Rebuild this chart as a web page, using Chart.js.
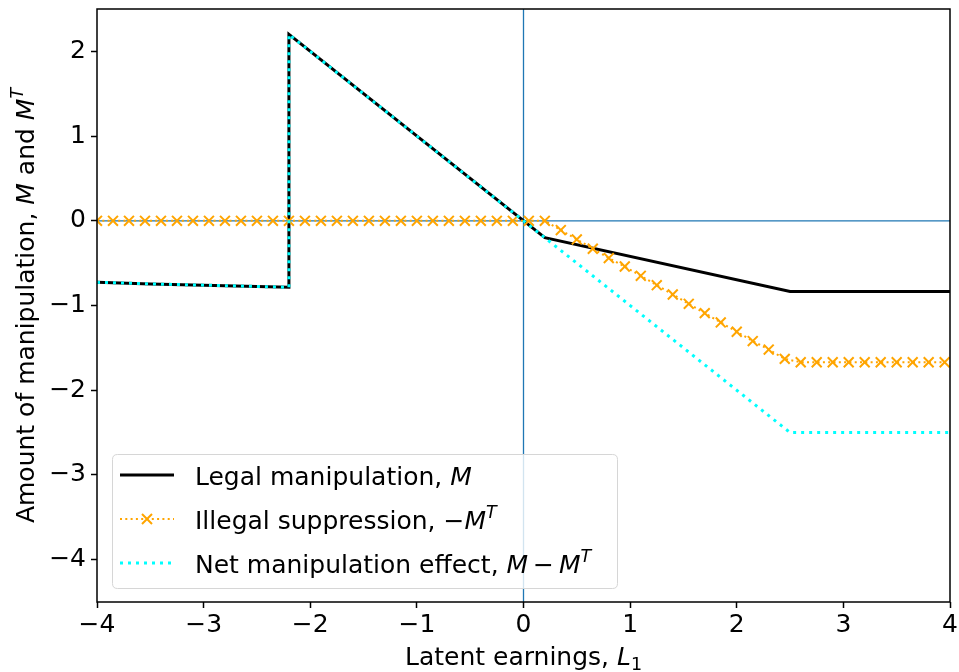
<!DOCTYPE html>
<html>
<head>
<meta charset="utf-8">
<script src="https://cdn.jsdelivr.net/npm/chart.js@4/dist/chart.umd.min.js"></script>
<style>
  html, body { margin: 0; padding: 0; background: #ffffff; }
  #wrap { width: 959px; height: 672px; }
</style>
</head>
<body>
<div id="wrap"><canvas id="c" width="959" height="672"></canvas></div>
<script>
// Latent earnings L1 (x) against amount of manipulation (y)
const xTicks = [-4, -3, -2, -1, 0, 1, 2, 3, 4];
const yTicks = [-4, -3, -2, -1, 0, 1, 2];

// Legal manipulation, M (breakpoints of the piecewise curve)
const legalX = [-4.0, -3.5, -3.0, -2.5, -2.2, -2.2, 0.2, 2.5, 4.0];
const legalY = [-0.726, -0.745, -0.76, -0.775, -0.785, 2.2, -0.2, -0.835, -0.835];

// Illegal suppression, -M^T (marked samples)
const suppressionX = [
  -4.00, -3.85, -3.70, -3.55, -3.40, -3.25, -3.10, -2.95, -2.80, -2.65,
  -2.50, -2.35, -2.20, -2.05, -1.90, -1.75, -1.60, -1.45, -1.30, -1.15,
  -1.00, -0.85, -0.70, -0.55, -0.40, -0.25, -0.10, 0.05, 0.20, 0.35,
  0.50, 0.65, 0.80, 0.95, 1.10, 1.25, 1.40, 1.55, 1.70, 1.85,
  2.00, 2.15, 2.30, 2.45, 2.60, 2.75, 2.90, 3.05, 3.20, 3.35,
  3.50, 3.65, 3.80, 3.95
];
const suppressionY = [
  0, 0, 0, 0, 0, 0, 0, 0, 0, 0,
  0, 0, 0, 0, 0, 0, 0, 0, 0, 0,
  0, 0, 0, 0, 0, 0, 0, 0, 0, -0.11,
  -0.22, -0.33, -0.44, -0.54, -0.65, -0.76, -0.87, -0.98, -1.09, -1.20,
  -1.31, -1.42, -1.52, -1.63, -1.67, -1.67, -1.67, -1.67, -1.67, -1.67,
  -1.67, -1.67, -1.67, -1.67
];

// Net manipulation effect, M - M^T
const netX = [-4.0, -3.5, -3.0, -2.5, -2.2, -2.2, 0.2, 2.5, 4.0];
const netY = [-0.726, -0.745, -0.76, -0.775, -0.785, 2.2, -0.2, -2.5, -2.5];

const FONT = '"DejaVu Sans", "Liberation Sans", sans-serif';
const FS = 25;

const pts = (xs, ys) => xs.map((x, i) => ({ x: x, y: ys[i] }));
const fmt = v => (v < 0 ? '\u2212' + Math.abs(v) : String(v));

// Draw a run of text pieces (upright / italic / superscript / subscript)
function richPieces(ctx, segs) {
  return segs.map(s => {
    const size = (s.sup || s.sub) ? FS * 0.7 : FS;
    const font = (s.it ? 'italic ' : '') + size + 'px ' + FONT;
    ctx.font = font;
    const w = s.gap !== undefined ? s.gap : ctx.measureText(s.t).width;
    return Object.assign({}, s, { font: font, w: w });
  });
}
function drawRich(ctx, segs, x, baseY, align) {
  const pieces = richPieces(ctx, segs);
  const total = pieces.reduce((a, p) => a + p.w, 0);
  let cx = align === 'center' ? x - total / 2 : x;
  ctx.save();
  ctx.fillStyle = '#000';
  ctx.textAlign = 'left';
  ctx.textBaseline = 'alphabetic';
  pieces.forEach(p => {
    if (p.t) {
      ctx.font = p.font;
      let dy = 0;
      if (p.sup) dy = -11;
      if (p.sub) dy = 5;
      ctx.fillText(p.t, cx, baseY + dy);
    }
    cx += p.w;
  });
  ctx.restore();
}

const legendRows = [
  { segs: [{ t: 'Legal manipulation, ' }, { t: 'M', it: true }], kind: 'legal' },
  { segs: [{ t: 'Illegal suppression, ' }, { t: '\u2212' }, { t: 'M', it: true }, { t: 'T', it: true, sup: true }], kind: 'supp' },
  { segs: [{ t: 'Net manipulation effect, ' }, { t: 'M', it: true }, { gap: 5 }, { t: '\u2212' }, { gap: 5 }, { t: 'M', it: true }, { t: 'T', it: true, sup: true }], kind: 'net' }
];

function roundRect(ctx, x, y, w, h, r) {
  ctx.beginPath();
  ctx.moveTo(x + r, y);
  ctx.lineTo(x + w - r, y);
  ctx.quadraticCurveTo(x + w, y, x + w, y + r);
  ctx.lineTo(x + w, y + h - r);
  ctx.quadraticCurveTo(x + w, y + h, x + w - r, y + h);
  ctx.lineTo(x + r, y + h);
  ctx.quadraticCurveTo(x, y + h, x, y + h - r);
  ctx.lineTo(x, y + r);
  ctx.quadraticCurveTo(x, y, x + r, y);
  ctx.closePath();
}

const decor = {
  id: 'decor',
  beforeDraw(chart) {
    const ctx = chart.ctx;
    ctx.save();
    ctx.fillStyle = '#ffffff';
    ctx.fillRect(0, 0, chart.width, chart.height);
    ctx.restore();
  },
  beforeDatasetsDraw(chart) {
    // reference lines through the origin
    const { ctx, chartArea: a, scales } = chart;
    const x0 = scales.x.getPixelForValue(0);
    const y0 = scales.y.getPixelForValue(0);
    ctx.save();
    ctx.strokeStyle = '#1f77b4';
    ctx.lineWidth = 1.3;
    ctx.beginPath();
    ctx.moveTo(a.left, y0); ctx.lineTo(a.right, y0);
    ctx.moveTo(x0, a.top); ctx.lineTo(x0, a.bottom);
    ctx.stroke();
    ctx.restore();
  },
  afterDatasetsDraw(chart) {
    const { ctx, chartArea: a } = chart;
    ctx.save();
    ctx.strokeStyle = '#000';
    ctx.lineWidth = 1.5;
    ctx.strokeRect(a.left, a.top, a.right - a.left, a.bottom - a.top);
    ctx.restore();
  },
  afterDraw(chart) {
    const { ctx, chartArea: a } = chart;

    // axis titles
    drawRich(ctx, [{ t: 'Latent earnings, ' }, { t: 'L', it: true }, { t: '1', sub: true }],
      (a.left + a.right) / 2, 665, 'center');
    ctx.save();
    ctx.translate(34, (a.top + a.bottom) / 2);
    ctx.rotate(-Math.PI / 2);
    drawRich(ctx, [{ t: 'Amount of manipulation, ' }, { t: 'M', it: true }, { t: ' and ' },
      { t: 'M', it: true }, { t: 'T', it: true, sup: true }], 0, 0, 'center');
    ctx.restore();

    // legend box
    const bx = 112, by = 454, bw = 505, bh = 134;
    ctx.save();
    roundRect(ctx, bx + 0.5, by + 0.5, bw, bh, 5);
    ctx.fillStyle = 'rgba(255,255,255,0.8)';
    ctx.fill();
    ctx.strokeStyle = '#d6d6d6';
    ctx.lineWidth = 1;
    ctx.stroke();
    ctx.restore();

    const ds = chart.data.datasets;
    legendRows.forEach((row, i) => {
      const cy = 475 + i * 44;
      const d = ds[i];
      ctx.save();
      ctx.strokeStyle = d.borderColor;
      ctx.lineWidth = d.borderWidth;
      ctx.setLineDash(d.borderDash || []);
      ctx.beginPath();
      ctx.moveTo(120, cy);
      ctx.lineTo(174, cy);
      ctx.stroke();
      ctx.setLineDash([]);
      if (row.kind === 'supp') {
        const r = 5;
        ctx.lineWidth = 2;
        ctx.beginPath();
        ctx.moveTo(147 - r, cy - r); ctx.lineTo(147 + r, cy + r);
        ctx.moveTo(147 - r, cy + r); ctx.lineTo(147 + r, cy - r);
        ctx.stroke();
      }
      ctx.restore();
      drawRich(ctx, row.segs, 195, cy + 9.5, 'left');
    });
  }
};

new Chart(document.getElementById('c'), {
  type: 'scatter',
  data: {
    datasets: [
      {
        label: 'Legal manipulation, M',
        data: pts(legalX, legalY),
        showLine: true,
        borderColor: '#000000',
        borderWidth: 3,
        pointRadius: 0,
        order: 3,
        clip: 0
      },
      {
        label: 'Illegal suppression, -M^T',
        data: pts(suppressionX, suppressionY),
        showLine: true,
        borderColor: '#ffa500',
        borderWidth: 2,
        borderDash: [2, 3.3],
        pointStyle: 'crossRot',
        pointRadius: 7,
        pointBorderWidth: 2,
        pointBorderColor: '#ffa500',
        pointBackgroundColor: '#ffa500',
        order: 2,
        clip: 0
      },
      {
        label: 'Net manipulation effect, M - M^T',
        data: pts(netX, netY),
        showLine: true,
        borderColor: '#00ffff',
        borderWidth: 3,
        borderDash: [3, 5],
        pointRadius: 0,
        order: 1,
        clip: 0
      }
    ]
  },
  options: {
    responsive: false,
    animation: false,
    devicePixelRatio: 1,
    layout: { padding: { top: 8, right: 9, left: 0, bottom: 0 } },
    elements: { line: { tension: 0 } },
    plugins: { legend: { display: false }, tooltip: { enabled: false } },
    scales: {
      x: {
        type: 'linear',
        min: -4, max: 4,
        afterBuildTicks: s => { s.ticks = xTicks.map(v => ({ value: v })); },
        afterFit: s => { s.height = 70; s.paddingLeft = 0; s.paddingRight = 0; },
        border: { display: false },
        grid: { display: true, drawOnChartArea: false, drawTicks: true, tickLength: 6, tickColor: '#000', tickWidth: 1.5 },
        ticks: { color: '#000', font: { family: FONT, size: FS }, padding: 2, maxRotation: 0, autoSkip: false, callback: v => fmt(v) }
      },
      y: {
        type: 'linear',
        min: -4.5, max: 2.5,
        afterBuildTicks: s => { s.ticks = yTicks.map(v => ({ value: v })); },
        afterFit: s => { s.width = 97; s.paddingTop = 0; s.paddingBottom = 0; },
        border: { display: false },
        grid: { display: true, drawOnChartArea: false, drawTicks: true, tickLength: 6, tickColor: '#000', tickWidth: 1.5 },
        ticks: { color: '#000', font: { family: FONT, size: FS }, padding: 5, autoSkip: false, callback: v => fmt(v) }
      }
    }
  },
  plugins: [decor]
});
</script>
</body>
</html>
